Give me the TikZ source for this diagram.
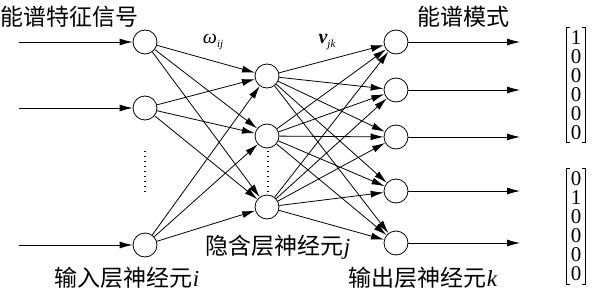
\documentclass[tikz,border=0pt]{standalone}
\usepackage{fontspec}
\newfontfamily\cjk{Noto Sans CJK SC}
\newfontfamily\tms{Liberation Serif}
\usetikzlibrary{arrows.meta}

\newcommand{\vsub}[1]{\raisebox{-4pt}{\fontsize{11}{11}\selectfont\mdseries\itshape #1}}

\begin{document}
\begin{tikzpicture}[
    x=1pt, y=-1pt,
    line width=0.8pt,
    neuron/.style={draw, circle, minimum size=24pt, inner sep=0pt},
    conn/.style={-{Latex[length=13pt, width=7pt]}},
    lbl/.style={font=\cjk\fontsize{23}{23}\selectfont, inner sep=0pt},
    wlbl/.style={font=\tms\fontsize{20}{20}\selectfont, inner sep=0pt},
    vec/.style={font=\tms\fontsize{21}{19}\selectfont, align=center, inner xsep=4pt, inner ysep=3pt},
    bracket/.style={line width=0.9pt},
    vdots/.style={line width=1.4pt, dash pattern=on 1.4pt off 3.6pt}
]
    \useasboundingbox (0,0) rectangle (605,305);

    % Nodes
    \node[neuron] (in1) at (145,42) {};
    \node[neuron] (in2) at (145,108) {};
    \node[neuron] (in3) at (145,245) {};

    \node[neuron] (hid1) at (267,76) {};
    \node[neuron] (hid2) at (267,136) {};
    \node[neuron] (hid3) at (267,207) {};

    \node[neuron] (out1) at (396,42) {};
    \node[neuron] (out2) at (396,90) {};
    \node[neuron] (out3) at (396,137) {};
    \node[neuron] (out4) at (396,191) {};
    \node[neuron] (out5) at (396,243) {};

    \coordinate (src1) at (19,42);
    \coordinate (src2) at (19,108);
    \coordinate (src3) at (19,245);
    \coordinate (dst1) at (520,42);
    \coordinate (dst2) at (520,90);
    \coordinate (dst3) at (520,137);
    \coordinate (dst4) at (520,191);
    \coordinate (dst5) at (520,243);

    % Labels
    \node[lbl, anchor=west] (feat) at (0,17) {能谱特征信号};
    \node[lbl] (mode) at (463,17) {能谱模式};
    \node[lbl] (hidlbl) at (278,247) {隐含层神经元{\tms\itshape j}};
    \node[lbl] (inlbl) at (127,278) {输入层神经元{\tms\itshape i}};
    \node[lbl] (outlbl) at (423,278) {输出层神经元{\tms\itshape k}};
    \node[wlbl] (wij) at (213,42) {\itshape ω\vsub{ij}};
    \node[wlbl] (vjk) at (327,42) {\bfseries\itshape v\vsub{jk}};

    % Target vectors
    \node[vec] (vec1) at (576,85) {1\\0\\0\\0\\0\\0};
    \node[vec] (vec2) at (576,226) {0\\1\\0\\0\\0\\0};
    \foreach \v in {vec1,vec2} {
        \draw[bracket] ([xshift=4pt]\v.north west) -| (\v.south west) -- ++(4pt,0);
        \draw[bracket] ([xshift=-4pt]\v.north east) -| (\v.south east) -- ++(-4pt,0);
    }

    % Omitted neurons
    \draw[vdots] (145,151) -- (145,195);
    \draw[vdots] (268,151) -- (268,193);

    % Connections
    \foreach \i in {1,2,3} {
        \draw[conn] (src\i) -- (in\i);
        \foreach \j in {1,2,3}
            \draw[conn] (in\i) -- (hid\j);
    }
    \foreach \j in {1,2,3}
        \foreach \k in {1,...,5}
            \draw[conn] (hid\j) -- (out\k);
    \foreach \k in {1,...,5}
        \draw[conn] (out\k) -- (dst\k);
\end{tikzpicture}
\end{document}
